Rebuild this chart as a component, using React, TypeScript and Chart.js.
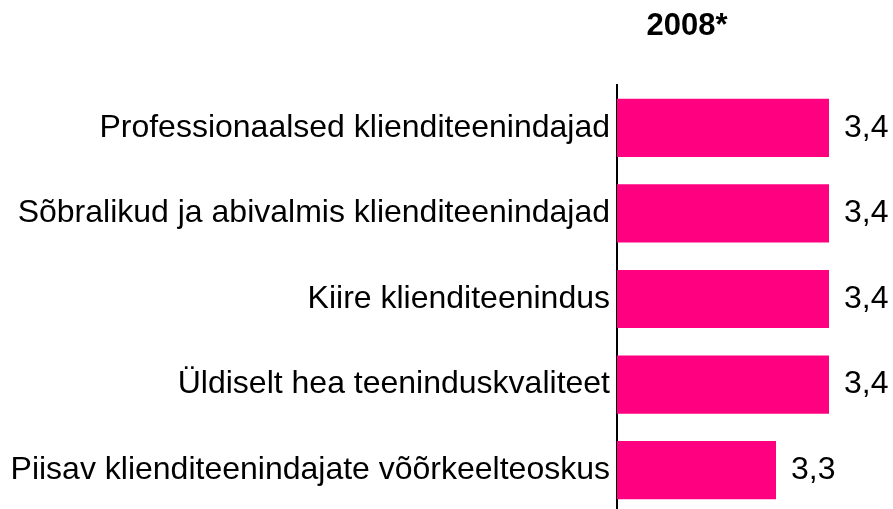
import React, { useEffect, useRef } from "react";
import { Chart, registerables } from "chart.js";

Chart.register(...registerables);

const categories = [
  "Professionaalsed klienditeenindajad",
  "Sõbralikud ja abivalmis klienditeenindajad",
  "Kiire klienditeenindus",
  "Üldiselt hea teeninduskvaliteet",
  "Piisav klienditeenindajate võõrkeelteoskus",
];
const values = [3.4, 3.4, 3.4, 3.4, 3.3];
const seriesName = "2008*";
const axisMin = 3.0;
const axisMax = 3.5;

const FONT = "'Liberation Sans', Arial, sans-serif";

const valueLabels = {
  id: "valueLabels",
  afterDatasetsDraw(chart: any) {
    const ctx = chart.ctx;
    const meta = chart.getDatasetMeta(0);
    ctx.save();
    ctx.font = `normal 32px ${FONT}`;
    ctx.fillStyle = "#000";
    ctx.textAlign = "left";
    ctx.textBaseline = "middle";
    meta.data.forEach((el: any, i: number) => {
      const txt = values[i].toFixed(1).replace(".", ",");
      ctx.fillText(txt, el.x + 15, el.y);
    });
    ctx.restore();
  },
};

const topTitle = {
  id: "topTitle",
  afterDraw(chart: any) {
    const ctx = chart.ctx;
    ctx.save();
    ctx.font = `bold 31px ${FONT}`;
    ctx.fillStyle = "#000";
    ctx.textAlign = "center";
    ctx.textBaseline = "middle";
    ctx.fillText(seriesName, chart.chartArea.left + 70, 26);
    ctx.restore();
  },
};

export default function App() {
  const ref = useRef<HTMLCanvasElement | null>(null);
  useEffect(() => {
    if (!ref.current) return;
    const chart = new Chart(ref.current, {
      type: "bar",
      data: {
        labels: categories,
        datasets: [
          {
            label: seriesName,
            data: values,
            backgroundColor: "#FF0080",
            borderWidth: 0,
            barPercentage: 0.68,
            categoryPercentage: 1,
          },
        ],
      },
      options: {
        indexAxis: "y",
        responsive: false,
        animation: false,
        devicePixelRatio: 1,
        layout: { padding: { top: 85, right: 11, bottom: 0, left: 0 } },
        plugins: {
          legend: { display: false },
          tooltip: { enabled: false },
          title: { display: false },
        },
        scales: {
          x: {
            display: false,
            min: axisMin,
            max: axisMax,
          },
          y: {
            afterFit: (scale: any) => {
              scale.width = 617;
              scale.paddingTop = 0;
              scale.paddingBottom = 0;
            },
            grid: { display: false, drawTicks: false },
            border: { display: true, color: "#000", width: 2 },
            ticks: {
              color: "#000",
              padding: 7,
              font: { family: FONT, size: 32 },
            },
          },
        },
      },
      plugins: [valueLabels, topTitle],
    });
    return () => chart.destroy();
  }, []);
  return (
    <div style={{ position: "fixed", left: 0, top: 0, width: 893, height: 513, background: "#fff" }}>
      <canvas ref={ref} width={893} height={513} style={{ width: 893, height: 513 }} />
    </div>
  );
}
